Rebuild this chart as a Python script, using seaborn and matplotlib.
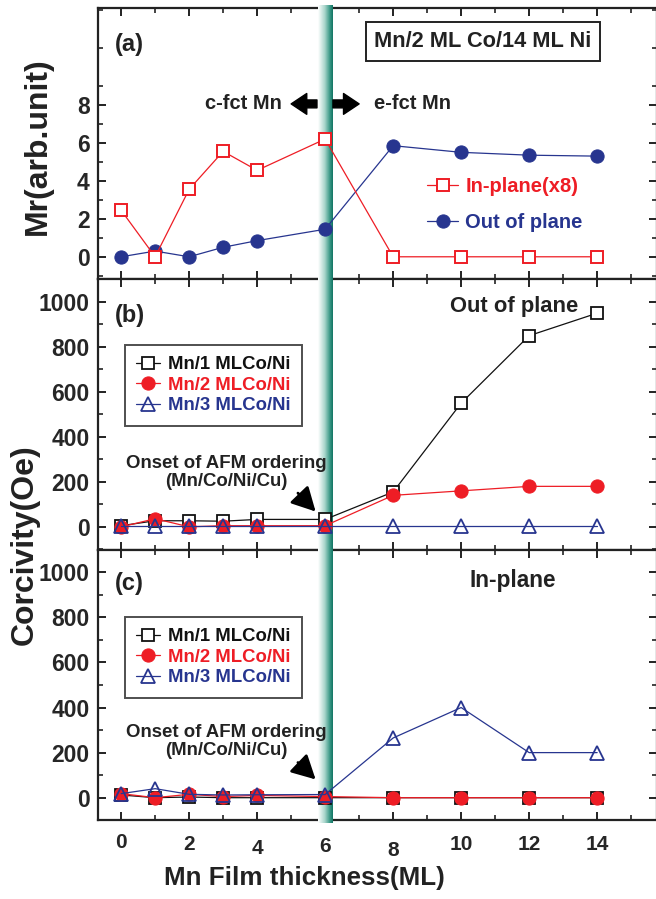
import numpy as np
import pandas as pd
import matplotlib
matplotlib.use("Agg")
import matplotlib.pyplot as plt
from matplotlib.colors import LinearSegmentedColormap
from matplotlib.ticker import MultipleLocator, FixedLocator
from matplotlib.transforms import ScaledTranslation
import seaborn as sns

# ---------------- data ----------------
thickness = [0, 1, 2, 3, 4, 6, 8, 10, 12, 14]

# panel (a): Mn/2 ML Co/14 ML Ni remanence
mr_inplane_x8 = [2.45, 0.0, 3.55, 5.55, 4.55, 6.2, 0.0, 0.0, 0.0, 0.0]
mr_outplane = [0.0, 0.3, 0.0, 0.5, 0.85, 1.45, 5.85, 5.5, 5.35, 5.3]

# panel (b): out-of-plane coercivity (Oe)
hc_out_mn1 = [5, 27, 27, 25, 33, 33, 155, 550, 850, 950]
hc_out_mn2 = [0, 36, 0, 5, 5, 5, 140, 160, 180, 180]
hc_out_mn3 = [2, 2, 2, 2, 2, 2, 2, 2, 2, 2]

# panel (c): in-plane coercivity (Oe)
hc_in_mn1 = [12, 0, 3, 0, 0, 0, 0, 0, 0, 0]
hc_in_mn2 = [18, 0, 15, 5, 10, 5, 0, 0, 0, 0]
hc_in_mn3 = [18, 40, 15, 12, 13, 14, 265, 400, 200, 200]

series_labels = ["Mn/1 MLCo/Ni", "Mn/2 MLCo/Ni", "Mn/3 MLCo/Ni"]
xtick_vals = [0, 2, 4, 6, 8, 10, 12, 14]

# ---------------- style ----------------
sns.set_theme(style="white")
plt.rcParams["font.family"] = ["Liberation Sans", "DejaVu Sans"]
plt.rcParams["font.weight"] = "bold"
plt.rcParams["axes.labelweight"] = "bold"

RED = "#ee1d25"
BLUE = "#27358f"
BLACK = "#111111"
INK = "#222222"

W, H = 656, 899
fig = plt.figure(figsize=(W / 100, H / 100), dpi=100)


def px_axes(left, top, right, bottom):
    return fig.add_axes([left / W, 1 - bottom / H, (right - left) / W, (bottom - top) / H])


ax_a = px_axes(98, 8, 657, 279)
ax_b = px_axes(98, 279, 657, 550)
ax_c = px_axes(98, 550, 657, 820)

xlim = (-0.68, 15.76)
band_cmap = LinearSegmentedColormap.from_list(
    "band", [(0, "#ffffff"), (0.45, "#a9d6cc"), (0.8, "#3a9886"), (1.0, "#137564")])

for ax, ylim in [(ax_a, (-1.17, 13.1)), (ax_b, (-103, 1102)), (ax_c, (-99, 1099))]:
    ax.set_xlim(*xlim)
    ax.set_ylim(*ylim)
    grad = np.linspace(0, 1, 64).reshape(1, -1)
    dy = (ylim[1] - ylim[0]) * 0.01
    ax.imshow(grad, cmap=band_cmap, aspect="auto",
              extent=[5.79, 6.23, ylim[0] - dy, ylim[1] + dy],
              zorder=3, clip_on=False, interpolation="bilinear")
    for s in ax.spines.values():
        s.set_linewidth(1.6)
        s.set_color(INK)
        s.set_zorder(2.5)
    ax.xaxis.set_major_locator(FixedLocator(xtick_vals))
    ax.xaxis.set_minor_locator(FixedLocator([1, 3, 5, 7, 9, 11, 13, 15]))
    ax.tick_params(axis="both", which="both", direction="in", top=True, right=True,
                   bottom=True, left=True, color=INK)
    ax.tick_params(axis="both", which="major", length=6, width=1.4, labelsize=16.5)
    ax.tick_params(axis="y", which="major", pad=6)
    ax.tick_params(axis="both", which="minor", length=3.5, width=1.2)
    ax.tick_params(axis="x", labelbottom=False)

# ---------------- panel (a) ----------------
dfa = pd.DataFrame({"x": thickness, "inplane": mr_inplane_x8, "outplane": mr_outplane})
sns.lineplot(data=dfa, x="x", y="outplane", ax=ax_a, color=BLUE, lw=0.9,
             marker="o", markersize=9.5, markerfacecolor=BLUE, markeredgecolor=BLUE,
             label="Out of plane", zorder=4)
sns.lineplot(data=dfa, x="x", y="inplane", ax=ax_a, color=RED, lw=0.9,
             marker="s", markersize=8.8, markerfacecolor="white", markeredgecolor=RED,
             markeredgewidth=1.4, label="In-plane(x8)", zorder=5)
ax_a.set_xlabel("")
ax_a.set_ylabel("")
ax_a.yaxis.set_major_locator(FixedLocator([0, 2, 4, 6, 8]))
ax_a.yaxis.set_minor_locator(FixedLocator([-1, 1, 3, 5, 7, 9, 11, 13]))
h, l = ax_a.get_legend_handles_labels()
leg_a = ax_a.legend([h[1], h[0]], [l[1], l[0]], loc="upper left",
                    bbox_to_anchor=(427 / W, 1 - 177 / H), bbox_transform=fig.transFigure,
                    frameon=False, borderpad=0, borderaxespad=0, handlelength=1.55,
                    handletextpad=0.35, labelspacing=0.86, prop={"size": 14.5, "weight": "bold"})
for txt, c in zip(leg_a.get_texts(), [RED, BLUE]):
    txt.set_color(c)

ax_a.text(-0.18, 11.18, "(a)", fontsize=17, fontweight="bold", ha="left", va="center", color=INK)
ax_a.text(10.64, 11.34, "Mn/2 ML Co/14 ML Ni", fontsize=15.7, fontweight="bold",
          ha="center", va="center", color=INK,
          bbox=dict(boxstyle="square,pad=0.4", fc="white", ec=INK, lw=1.4))
ax_a.text(4.73, 8.05, "c-fct Mn", fontsize=14.5, fontweight="bold", ha="right", va="center", color=INK)
ax_a.text(7.44, 8.05, "e-fct Mn", fontsize=14.5, fontweight="bold", ha="left", va="center", color=INK)
arrow_kw = dict(arrowstyle="simple,head_length=0.75,head_width=1.0,tail_width=0.38",
                fc="black", ec="black", mutation_scale=15, shrinkA=0, shrinkB=0)
ax_a.annotate("", xy=(5.0, 8.05), xytext=(5.76, 8.05), arrowprops=arrow_kw, zorder=6)
ax_a.annotate("", xy=(7.0, 8.05), xytext=(6.23, 8.05), arrowprops=arrow_kw, zorder=6)


# ---------------- panels (b) and (c) ----------------
def coercivity_panel(ax, s1, s2, s3, legend_top):
    df = pd.DataFrame({"x": thickness, "s1": s1, "s2": s2, "s3": s3})
    sns.lineplot(data=df, x="x", y="s1", ax=ax, color=BLACK, lw=0.9, marker="s",
                 markersize=8.8, markerfacecolor="white", markeredgecolor=BLACK,
                 markeredgewidth=1.3, label=series_labels[0], zorder=4)
    sns.lineplot(data=df, x="x", y="s2", ax=ax, color=RED, lw=0.9, marker="o",
                 markersize=9.5, markerfacecolor=RED, markeredgecolor=RED,
                 label=series_labels[1], zorder=5)
    sns.lineplot(data=df, x="x", y="s3", ax=ax, color=BLUE, lw=0.9, marker="^",
                 markersize=10, markerfacecolor="none", markeredgecolor=BLUE,
                 markeredgewidth=1.3, label=series_labels[2], zorder=6)
    ax.set_xlabel("")
    ax.set_ylabel("")
    ax.yaxis.set_major_locator(MultipleLocator(200))
    ax.yaxis.set_minor_locator(MultipleLocator(100))
    leg = ax.legend(loc="upper left", bbox_to_anchor=(125 / W, 1 - legend_top / H),
                    bbox_transform=fig.transFigure, frameon=True, fancybox=False,
                    borderpad=0.6, borderaxespad=0, handlelength=1.3,
                    handletextpad=0.45, labelspacing=0.2,
                    prop={"size": 13.3, "weight": "bold"})
    leg.get_frame().set_edgecolor(INK)
    leg.get_frame().set_linewidth(1.4)
    for txt, c in zip(leg.get_texts(), [BLACK, RED, BLUE]):
        txt.set_color(c)
    return leg


coercivity_panel(ax_b, hc_out_mn1, hc_out_mn2, hc_out_mn3, 345)
coercivity_panel(ax_c, hc_in_mn1, hc_in_mn2, hc_in_mn3, 617)

ax_b.text(-0.18, 938, "(b)", fontsize=17, fontweight="bold", ha="left", va="center", color=INK)
ax_b.text(13.44, 978, "Out of plane", fontsize=15.8, fontweight="bold", ha="right",
          va="center", color=INK)
ax_c.text(-0.18, 952, "(c)", fontsize=17, fontweight="bold", ha="left", va="center", color=INK)
ax_c.text(11.51, 963, "In-plane", fontsize=16.3, fontweight="bold", ha="center",
          va="center", color=INK)

onset_arrow = dict(arrowstyle="-|>,head_length=0.85,head_width=0.45", lw=2.0,
                   color="black", mutation_scale=17, shrinkA=0, shrinkB=0)
for ax, ty, tail_y, head_y in [(ax_b, 243, 150, 68), (ax_c, 250, 156, 81)]:
    ax.text(3.09, ty, "Onset of AFM ordering\n(Mn/Co/Ni/Cu)", fontsize=13.4,
            fontweight="bold", ha="center", va="center", linespacing=1.1, color=INK)
    ax.annotate("", xy=(5.72, head_y), xytext=(5.2, tail_y), arrowprops=onset_arrow, zorder=7)

# x tick labels (bottom panel only), slightly staggered as in the original
ax_c.tick_params(axis="x", labelbottom=True, labelsize=15, pad=9)
ax_c.set_xticks(xtick_vals)
ax_c.set_xticklabels([str(v) for v in xtick_vals])
stagger_px = [0, 2.5, 6.5, 5, 8, 2, 2, 3]
for lab, dpx in zip(ax_c.get_xticklabels(), stagger_px):
    lab.set_transform(lab.get_transform() + ScaledTranslation(0, -dpx / 100, fig.dpi_scale_trans))

fig.text(38 / W, 1 - 146 / H, "Mr(arb.unit)", rotation=90, fontsize=23,
         fontweight="bold", ha="center", va="center", color=INK)
fig.text(25 / W, 1 - 545 / H, "Corcivity(Oe)", rotation=90, fontsize=23,
         fontweight="bold", ha="center", va="center", color=INK)
fig.text(304 / W, 1 - 878 / H, "Mn Film thickness(ML)", fontsize=18.7,
         fontweight="bold", ha="center", va="center", color=INK)

fig.savefig("out.png", dpi=100)
